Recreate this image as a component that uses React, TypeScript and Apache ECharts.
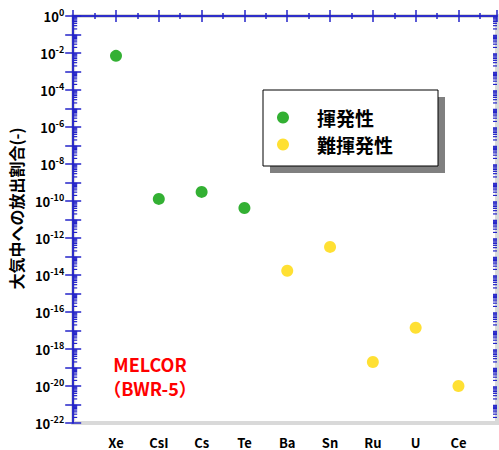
import React, { useEffect, useRef } from "react";
import * as echarts from "echarts";

const categories = ["Xe", "CsI", "Cs", "Te", "Ba", "Sn", "Ru", "U", "Ce"];
const volatileLabel = "揮発性";
const nonVolatileLabel = "難揮発性";
const volatileNames = ["Xe", "CsI", "Cs", "Te"];
const volatileValues = [7e-3, 1.3e-10, 3.1e-10, 4.2e-11];
const nonVolatileNames = ["Ba", "Sn", "Ru", "U", "Ce"];
const nonVolatileValues = [1.7e-14, 3.3e-13, 2e-19, 1.4e-17, 1e-20];
const yMinExp = -22;
const yMaxExp = 0;
const yAxisTitle = "大気中への放出割合(-)";
const noteText = "MELCOR\n（BWR-5）";

const FONT = "'Noto Sans CJK JP', 'Noto Sans', sans-serif";
const AXIS_BLUE = "#2323c8";

export default function App() {
  const ref = useRef<HTMLDivElement>(null);
  useEffect(() => {
    if (!ref.current) return;
    const chart = echarts.init(ref.current, null, { renderer: "svg" });

    const toPoint = (name: string, v: number) => [categories.indexOf(name) + 1, Math.log10(v)];
    const minorTicks: number[] = [];
    for (let d = yMinExp; d < yMaxExp; d++) {
      for (let k = 2; k <= 9; k++) minorTicks.push(d + Math.log10(k));
    }
    const xMax = 9.9;

    const xAxisBase = {
      type: "value",
      min: 0,
      max: xMax,
      interval: 1,
      axisLine: { show: true, lineStyle: { color: AXIS_BLUE, width: 1.5 } },
      axisTick: { show: true, inside: true, length: 6, lineStyle: { color: AXIS_BLUE, width: 1.5 } },
      minorTick: { show: true, splitNumber: 2, length: 3, lineStyle: { color: AXIS_BLUE, width: 1.5 } },
      splitLine: { show: false },
    };
    const yAxisBase = {
      type: "value",
      min: yMinExp,
      max: yMaxExp,
      interval: 1,
      axisLine: { show: true, lineStyle: { color: AXIS_BLUE, width: 1.5 } },
      axisTick: { show: true, inside: true, length: 8, lineStyle: { color: AXIS_BLUE, width: 1.5 } },
      splitLine: { show: false },
    };

    chart.setOption({
      animation: false,
      backgroundColor: "#ffffff",
      grid: {
        left: 73,
        right: 2,
        top: 16,
        bottom: 27,
        show: true,
        borderColor: "#d9d9d9",
        borderWidth: 4,
        backgroundColor: "#ffffff",
      },
      xAxis: [
        {
          ...xAxisBase,
          position: "bottom",
          axisLabel: {
            show: true,
            margin: 12,
            fontFamily: FONT,
            fontWeight: "bold",
            fontSize: 13,
            lineHeight: 14,
            color: "#000",
            showMaxLabel: false,
            formatter: (v: number) => (Number.isInteger(v) && v >= 1 ? categories[v - 1] ?? "" : ""),
          },
        },
        { ...xAxisBase, position: "top", axisLabel: { show: false } },
      ],
      yAxis: [
        {
          ...yAxisBase,
          position: "left",
          name: yAxisTitle,
          nameLocation: "middle",
          nameGap: 44,
          nameTextStyle: {
            fontFamily: FONT,
            fontWeight: "bold",
            fontSize: 16,
            color: "#000",
            padding: [0, 0, 0, 22],
          },
          axisLabel: {
            show: true,
            margin: 9,
            color: "#000",
            formatter: (v: number) => (Math.round(v) % 2 === 0 ? `{b|10}{s|${Math.round(v)}}` : ""),
            rich: {
              b: { fontFamily: FONT, fontWeight: "bold", fontSize: 13, color: "#000" },
              s: { fontFamily: FONT, fontWeight: "bold", fontSize: 9, color: "#000", padding: [0, 0, 8, 0] },
            },
          },
        },
        { ...yAxisBase, position: "right", axisLabel: { show: false } },
      ],
      legend: {
        orient: "vertical",
        left: 272,
        top: 103,
        icon: "circle",
        itemWidth: 12,
        itemHeight: 12,
        itemGap: 8,
        data: [volatileLabel, nonVolatileLabel],
        textStyle: {
          fontFamily: FONT,
          fontWeight: "bold",
          fontSize: 19,
          color: "#000",
          padding: [0, 0, 0, 23],
        },
      },
      graphic: [
        { type: "rect", shape: { x: 270, y: 97, width: 175, height: 76 }, style: { fill: "#808080" }, z: 1 },
        {
          type: "rect",
          shape: { x: 263, y: 90, width: 175, height: 76 },
          style: { fill: "#ffffff", stroke: "#000000", lineWidth: 1 },
          z: 2,
        },
        {
          type: "text",
          x: 150,
          y: 352,
          z: 3,
          style: {
            text: noteText,
            fill: "#ff0000",
            font: `bold 18px ${FONT}`,
            textAlign: "center",
            textVerticalAlign: "top",
            lineHeight: 24,
          },
        },
      ],
      series: [
        {
          name: volatileLabel,
          type: "scatter",
          symbol: "circle",
          symbolSize: 12,
          itemStyle: { color: "#009c00" },
          data: volatileNames.map((n, i) => toPoint(n, volatileValues[i])),
          z: 5,
        },
        {
          name: nonVolatileLabel,
          type: "scatter",
          symbol: "circle",
          symbolSize: 12,
          itemStyle: { color: "#ffd800" },
          data: nonVolatileNames.map((n, i) => toPoint(n, nonVolatileValues[i])),
          z: 5,
        },
        {
          name: "minorTicks",
          type: "custom",
          silent: true,
          z: 4,
          data: minorTicks.map((v) => [0, v]),
          renderItem: (params: any, api: any) => {
            const v = api.value(1);
            const l = api.coord([0, v]);
            const r = api.coord([xMax, v]);
            const st = { stroke: AXIS_BLUE, lineWidth: 1.2 };
            return {
              type: "group",
              children: [
                { type: "line", shape: { x1: l[0], y1: l[1], x2: l[0] + 4, y2: l[1] }, style: st },
                { type: "line", shape: { x1: r[0], y1: r[1], x2: r[0] - 4, y2: r[1] }, style: st },
              ],
            };
          },
        },
      ],
    });
    return () => chart.dispose();
  }, []);
  return <div ref={ref} style={{ width: 499, height: 450, position: "absolute", left: 0, top: 0 }} />;
}
